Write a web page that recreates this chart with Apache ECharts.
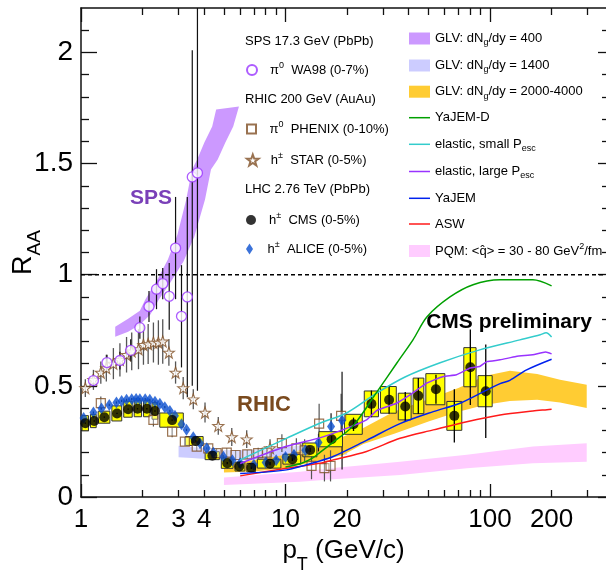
<!DOCTYPE html>
<html><head><meta charset="utf-8">
<script src="https://cdn.jsdelivr.net/npm/echarts@6/dist/echarts.min.js"></script>
<style>html,body{margin:0;padding:0;background:#fff}#c{width:606px;height:573px}</style>
</head><body><div id="c"></div>
<script>
// ================= DATA =================
const X_MIN = 1, X_MAX = 369, Y_MIN = 0, Y_MAX = 2.2;
const xMajorTicks = [1, 10, 100];
const xMinorTicks = [2,3,4,5,6,7,8,9,20,30,40,50,60,70,80,90,200,300];
const xTickLabels = [1, 2, 3, 4, 10, 20, 100, 200];
const yMajorTicks = [0, 0.5, 1, 1.5, 2];
const yMinorTicks = [0.1,0.2,0.3,0.4,0.6,0.7,0.8,0.9,1.1,1.2,1.3,1.4,1.6,1.7,1.8,1.9,2.1];
const yTickLabels = [0, 0.5, 1, 1.5, 2];

// WA98 pi0 (SPS)
const wa98Pt  = [1.15,1.34,1.55,1.75,1.94,2.15,2.34,2.51,2.70,2.90,3.10,3.31,3.50,3.71];
const wa98R   = [0.524,0.605,0.614,0.66,0.762,0.857,0.935,0.96,0.903,1.12,0.813,0.90,1.44,1.458];
const wa98ELo = [0.03,0.035,0.04,0.05,0.05,0.07,0.09,0.07,0.15,0.23,0.23,0.45,0.94,0.98];
const wa98EHi = [0.03,0.035,0.04,0.05,0.05,0.07,0.09,0.07,0.15,0.23,0.23,0.45,0.57,1.0];

// STAR h+-
const starPt  = [1.05,1.15,1.25,1.33,1.44,1.55,1.67,1.77,1.91,2.02,2.13,2.26,2.39,2.51,2.69,2.90,3.16,3.54,4.04,4.69,5.46,6.46,8.4];
const starR   = [0.49,0.527,0.56,0.58,0.60,0.617,0.64,0.655,0.665,0.685,0.688,0.695,0.695,0.70,0.65,0.56,0.49,0.44,0.38,0.32,0.27,0.26,0.22];
const starErr = [0.04,0.045,0.05,0.06,0.07,0.075,0.08,0.085,0.09,0.09,0.09,0.09,0.1,0.1,0.06,0.05,0.05,0.045,0.045,0.04,0.04,0.04,0.04];

// PHENIX pi0
const phenixPt  = [1.25,2.26,2.79,3.22,3.68,4.19,4.6,5.16,5.7,6.5,7.35,8.1,9.6,11.3,12.4,13.4,14.6,15.5,16.6,18.7];
const phenixR   = [0.422,0.347,0.294,0.249,0.227,0.219,0.197,0.2,0.189,0.192,0.197,0.2,0.242,0.219,0.21,0.14,0.33,0.13,0.14,0.365];
const phenixErr = [0.03,0.03,0.025,0.02,0.02,0.02,0.02,0.02,0.02,0.02,0.025,0.03,0.04,0.045,0.05,0.06,0.09,0.06,0.07,0.1];

// ALICE h+-
const alicePt  = [1.03,1.15,1.26,1.375,1.49,1.58,1.67,1.77,1.86,1.94,2.06,2.17,2.30,2.43,2.57,2.72,2.88,3.10,3.28,3.54,3.82,4.12,4.44,4.97,5.5,6.0,7.0,8.0,9.0,10.0,11.0,12.5,14.5,16.7,18.9];
const aliceR   = [0.355,0.38,0.398,0.414,0.425,0.432,0.437,0.44,0.441,0.44,0.44,0.437,0.429,0.419,0.404,0.387,0.365,0.327,0.302,0.269,0.242,0.219,0.199,0.181,0.165,0.152,0.145,0.155,0.165,0.18,0.19,0.21,0.245,0.317,0.344];
const aliceErr = [0.005,0.005,0.005,0.005,0.005,0.005,0.005,0.005,0.005,0.005,0.005,0.005,0.005,0.005,0.005,0.005,0.005,0.005,0.005,0.005,0.005,0.005,0.008,0.008,0.008,0.01,0.01,0.012,0.014,0.016,0.02,0.03,0.04,0.06,0.22];

// CMS h+- (bins, values, systematic and statistical uncertainties)
const cmsBinEdges = [1.0,1.1,1.2,1.4,1.6,1.8,2.0,2.2,2.4,3.2,4.0,4.8,5.6,6.4,7.2,9.6,12.0,14.4,19.2,24.0,28.8,35.2,41.6,48.0,60.8,73.6,86.4,103.6];
const cmsPt   = [1.05,1.16,1.30,1.50,1.70,1.89,2.10,2.30,2.79,3.64,4.39,5.19,5.94,6.80,8.40,10.8,13.2,16.8,21.5,26.3,32.1,38.5,44.6,54.4,66.9,80.1,95.3];
const cmsR    = [0.332,0.342,0.359,0.376,0.395,0.397,0.397,0.387,0.346,0.252,0.186,0.152,0.137,0.132,0.150,0.170,0.212,0.260,0.327,0.419,0.437,0.407,0.455,0.485,0.365,0.584,0.476];
const cmsSys  = [0.034,0.03,0.027,0.034,0.036,0.036,0.036,0.037,0.032,0.02,0.018,0.023,0.02,0.019,0.02,0.022,0.031,0.034,0.045,0.058,0.06,0.06,0.08,0.07,0.065,0.088,0.07];
const cmsStat = [0.003,0.003,0.003,0.003,0.003,0.003,0.003,0.003,0.003,0.003,0.004,0.005,0.005,0.006,0.007,0.008,0.01,0.015,0.03,0.06,0.063,0.065,0.08,0.065,0.12,0.17,0.21];

// GLV dNg/dy=400 band (edges)
const glv400Upper = [[1.47,0.766],[1.70,0.802],[1.94,0.838],[2.06,0.887],[2.36,0.977],[2.66,1.068],[2.96,1.18],[3.27,1.338],[3.49,1.473],[3.70,1.518],[4.01,1.595],[4.38,1.667],[4.58,1.743]];
const glv400Lower = [[1.47,0.721],[1.70,0.743],[1.94,0.775],[2.18,0.82],[2.40,0.887],[2.73,0.964],[3.17,1.059],[3.58,1.171],[4.04,1.338],[4.32,1.473],[4.66,1.518],[5.08,1.595],[5.55,1.667],[5.92,1.757]];
// GLV dNg/dy=1400 band
const glv1400Pt = [3, 3.5, 4.5, 6, 8, 10, 13, 16, 20];
const glv1400Lo = [0.179,0.175,0.168,0.165,0.17,0.175,0.185,0.19,0.19];
const glv1400Hi = [0.231,0.225,0.212,0.21,0.215,0.225,0.235,0.24,0.243];
// GLV dNg/dy=2000-4000 band
const glv2000Pt = [5, 7, 10, 14, 19, 24, 34, 50, 70, 95, 125, 170, 220, 297];
const glv2000Lo = [0.11,0.115,0.13,0.16,0.188,0.238,0.285,0.34,0.383,0.415,0.432,0.437,0.425,0.40];
const glv2000Hi = [0.15,0.165,0.19,0.235,0.27,0.31,0.385,0.44,0.49,0.545,0.568,0.553,0.527,0.505];
// PQM band
const pqmPt = [5, 11.8, 17.1, 36.3, 77, 162, 297];
const pqmLo = [0.054,0.069,0.08,0.099,0.129,0.152,0.159];
const pqmHi = [0.088,0.114,0.13,0.159,0.19,0.227,0.242];

// Theory curves
const yajemDPt = [10,12,13.6,14.7,17,21.4,28,35.1,42,49.2,63.7,82.6,112,162,200];
const yajemDR  = [0.135,0.152,0.176,0.2,0.245,0.32,0.473,0.604,0.707,0.811,0.90,0.955,0.977,0.977,0.95];
const elSmallPt = [6,10.1,14.7,19.9,28,38.4,57,89,140,176,188,200];
const elSmallR  = [0.167,0.264,0.332,0.378,0.468,0.54,0.604,0.662,0.707,0.73,0.739,0.72];
const elLargePt = [6,10,14.7,20,24.9,28,34.9,40.6,49,59,68.5,80,89,96.5,112,134,162,187,200];
const elLargeR  = [0.151,0.227,0.266,0.31,0.347,0.39,0.422,0.459,0.512,0.542,0.55,0.58,0.587,0.609,0.617,0.632,0.640,0.652,0.644];
const yajemPt = [6,10.1,14.7,17.1,24.9,36.3,52.8,71.3,96.8,112,125,151,200];
const yajemR  = [0.106,0.122,0.162,0.182,0.255,0.33,0.384,0.422,0.482,0.51,0.525,0.572,0.62];
const aswPt = [6,10.1,14.7,17.1,24.9,36.3,52.8,77,112,162,190,200];
const aswR  = [0.095,0.129,0.152,0.167,0.205,0.264,0.302,0.339,0.369,0.387,0.393,0.395];

// ================= CHART =================
const L = v => Math.log10(v);
const FONT = '"Liberation Sans", Arial, Helvetica, sans-serif';
const AX = '#111';

function xAx(pos, ticks, len, extra) {
  return Object.assign({
    type: 'value', gridIndex: 0, position: pos, min: L(X_MIN), max: L(X_MAX),
    axisLine: { show: false, onZero: false },
    splitLine: { show: false }, minorTick: { show: false },
    axisTick: { show: true, inside: true, length: len, customValues: ticks.map(L), lineStyle: { color: AX, width: 1.3 } },
    axisLabel: { show: false }
  }, extra || {});
}
function yAx(pos, ticks, len, extra) {
  return Object.assign({
    type: 'value', gridIndex: 0, position: pos, min: Y_MIN, max: Y_MAX,
    axisLine: { show: false, onZero: false },
    splitLine: { show: false }, minorTick: { show: false },
    axisTick: { show: true, inside: true, length: len, customValues: ticks, lineStyle: { color: AX, width: 1.3 } },
    axisLabel: { show: false }
  }, extra || {});
}

function bandSeries(name, upper, lower, color) {
  const pts = upper.concat(lower.slice().reverse());
  return {
    name, type: 'custom', silent: true, clip: true,
    itemStyle: { color },
    data: pts.map(p => [L(p[0]), p[1]]),
    renderItem(params, api) {
      if (params.dataIndex !== 0) return null;
      return { type: 'polygon', shape: { points: pts.map(p => api.coord([L(p[0]), p[1]])) }, style: { fill: color } };
    }
  };
}
function gridBand(name, pt, lo, hi, color) {
  return bandSeries(name, pt.map((x, i) => [x, hi[i]]), pt.map((x, i) => [x, lo[i]]), color);
}
function errSeries(pt, r, lo, hi, color, width) {
  return {
    type: 'custom', silent: true, clip: true,
    encode: { x: 0, y: [1, 2] },
    data: pt.map((x, i) => [L(x), r[i] - lo[i], r[i] + hi[i]]),
    renderItem(params, api) {
      const a = api.coord([api.value(0), api.value(1)]);
      const b = api.coord([api.value(0), api.value(2)]);
      return { type: 'line', shape: { x1: a[0], y1: a[1], x2: b[0], y2: b[1] }, style: { stroke: color, lineWidth: width } };
    }
  };
}
function curve(name, pt, r, color, smooth) {
  return {
    name, type: 'line', symbol: 'none', showSymbol: false, smooth: smooth, silent: true, clip: true,
    lineStyle: { color, width: 1.5 }, itemStyle: { color },
    data: pt.map((x, i) => [L(x), r[i]])
  };
}
function scatter(name, pt, r, symbol, size, itemStyle) {
  return {
    name, type: 'scatter', symbol, symbolSize: size, silent: true, clip: true,
    itemStyle, data: pt.map((x, i) => [L(x), r[i]])
  };
}

const STAR_PATH = 'path://M10,0 L12.35,6.76 L19.51,6.91 L13.8,11.24 L15.88,18.09 L10,14 L4.12,18.09 L6.2,11.24 L0.49,6.91 L7.65,6.76 Z';
const SQUARE_PATH = 'path://M0,0L9,0L9,9L0,9Z';
const DIAMOND_PATH = 'path://M3.5,0L7,5.5L3.5,11L0,5.5Z';
const LINE_ICON = 'path://M0,0L21,0L21,1.5L0,1.5Z';

const C = {
  glv400: '#cc99ff', glv1400: '#ccccff', glv2000: '#ffcc33', pqm: '#ffccff',
  green: '#00a000', cyan: '#33cccc', purple: '#9933ff', blue: '#0022ee', red: '#ff1a1a',
  wa98: '#9933ff', brown: '#7f4f24', alice: '#0a4fd0'
};

const series = [
  { name: 'ref1', type: 'line', symbol: 'none', silent: true,
    lineStyle: { color: '#000', width: 1.4, type: [4, 3] },
    data: [[L(X_MIN), 1], [L(X_MAX), 1]] },
  gridBand('PQM', pqmPt, pqmLo, pqmHi, C.pqm),
  gridBand('GLV1400', glv1400Pt, glv1400Lo, glv1400Hi, C.glv1400),
  gridBand('GLV2000', glv2000Pt, glv2000Lo, glv2000Hi, C.glv2000),
  bandSeries('GLV400', glv400Upper, glv400Lower, C.glv400),
  curve('ASW', aswPt, aswR, C.red, 0.3),
  curve('YaJEM', yajemPt, yajemR, C.blue, 0.3),
  curve('elasticLarge', elLargePt, elLargeR, C.purple, 0.15),
  curve('elasticSmall', elSmallPt, elSmallR, C.cyan, 0.3),
  curve('YaJEM-D', yajemDPt, yajemDR, C.green, 0.3),
  errSeries(starPt, starR, starErr, starErr, '#555', 1.3),
  scatter('STAR', starPt, starR, STAR_PATH, 11, { color: '#fff', borderColor: C.brown, borderWidth: 1.1 }),
  errSeries(wa98Pt, wa98R, wa98ELo, wa98EHi, '#111', 1.2),
  scatter('WA98', wa98Pt, wa98R, 'circle', 10, { color: '#fff', borderColor: C.wa98, borderWidth: 1.3 }),
  errSeries(phenixPt, phenixR, phenixErr, phenixErr, '#555', 1.2),
  scatter('PHENIX', phenixPt, phenixR, 'rect', 9, { color: 'rgba(255,255,255,0.45)', borderColor: C.brown, borderWidth: 1.2 }),
  errSeries(alicePt, aliceR, aliceErr, aliceErr, '#111', 1.2),
  scatter('ALICE', alicePt, aliceR, 'diamond', [8, 12], { color: C.alice }),
  { type: 'custom', silent: true, clip: true,
    encode: { x: [0, 1], y: [2, 3] },
    data: cmsPt.map((x, i) => [L(cmsBinEdges[i]), L(cmsBinEdges[i + 1]), cmsR[i] - cmsSys[i], cmsR[i] + cmsSys[i]]),
    renderItem(params, api) {
      const a = api.coord([api.value(0), api.value(3)]);
      const b = api.coord([api.value(1), api.value(2)]);
      return { type: 'rect', shape: { x: a[0] + 1, y: a[1], width: Math.max(2, b[0] - a[0] - 2), height: b[1] - a[1] },
        style: { fill: '#ffff00', stroke: '#333', lineWidth: 1 } };
    } },
  errSeries(cmsPt, cmsR, cmsStat, cmsStat, '#000', 1.3),
  scatter('CMS', cmsPt, cmsR, 'circle', 10, { color: '#000' })
];

const legendText = {
  'WA98': 'π{sup|0}  WA98 (0-7%)',
  'PHENIX': 'π{sup|0}  PHENIX (0-10%)',
  'STAR': 'h{sup|±}  STAR (0-5%)',
  'CMS': 'h{sup|±}  CMS (0-5%)',
  'ALICE': 'h{sup|±}  ALICE (0-5%)',
  'GLV400': 'GLV: dN{sub|g}/dy = 400',
  'GLV1400': 'GLV: dN{sub|g}/dy = 1400',
  'GLV2000': 'GLV: dN{sub|g}/dy = 2000-4000',
  'YaJEM-D': 'YaJEM-D',
  'elasticSmall': 'elastic, small P{sub|esc}',
  'elasticLarge': 'elastic, large P{sub|esc}',
  'YaJEM': 'YaJEM',
  'ASW': 'ASW',
  'PQM': 'PQM: <q\u0302> = 30 - 80 GeV{sup|2}/fm'
};
const legTextStyle = {
  fontSize: 13, fontFamily: FONT, color: '#000', lineHeight: 18,
  rich: {
    sup: { fontSize: 9, lineHeight: 9, verticalAlign: 'top', fontFamily: FONT, color: '#000' },
    sub: { fontSize: 9, lineHeight: 9, verticalAlign: 'bottom', fontFamily: FONT, color: '#000' }
  }
};
function leg(item, left, cy, iw, ih) {
  return {
    show: true, left, top: cy - 9, padding: 0, itemGap: 0, orient: 'horizontal',
    itemWidth: iw, itemHeight: ih, selectedMode: false, symbolKeepAspect: true,
    data: [item], formatter: n => legendText[n], textStyle: legTextStyle
  };
}
const legends = [
  leg('WA98', 246, 70, 26, 10),
  leg({ name: 'PHENIX', icon: SQUARE_PATH }, 246, 129, 26, 9),
  leg('STAR', 246, 160, 26, 11),
  leg('CMS', 246, 220, 26, 10),
  leg({ name: 'ALICE', icon: DIAMOND_PATH }, 246, 249, 26, 11),
  leg({ name: 'GLV400', icon: 'rect', itemStyle: { color: C.glv400 } }, 409, 38.5, 21, 12),
  leg({ name: 'GLV1400', icon: 'rect', itemStyle: { color: C.glv1400 } }, 409, 65.5, 21, 12),
  leg({ name: 'GLV2000', icon: 'rect', itemStyle: { color: C.glv2000 } }, 409, 91.7, 21, 12),
  leg({ name: 'YaJEM-D', icon: LINE_ICON, itemStyle: { color: C.green } }, 409, 117.7, 21, 2),
  leg({ name: 'elasticSmall', icon: LINE_ICON, itemStyle: { color: C.cyan } }, 409, 144.3, 21, 2),
  leg({ name: 'elasticLarge', icon: LINE_ICON, itemStyle: { color: C.purple } }, 409, 171.5, 21, 2),
  leg({ name: 'YaJEM', icon: LINE_ICON, itemStyle: { color: C.blue } }, 409, 198.3, 21, 2),
  leg({ name: 'ASW', icon: LINE_ICON, itemStyle: { color: C.red } }, 409, 224, 21, 2),
  leg({ name: 'PQM', icon: 'rect', itemStyle: { color: C.pqm } }, 409, 251, 21, 12)
];

const txt = (x, y, text, font, fill, align) => ({
  type: 'text', x, y, silent: true, z: 100,
  style: { text, font, fill, align: align || 'left', verticalAlign: 'middle' }
});

const option = {
  animation: false,
  backgroundColor: '#fff',
  grid: { left: 81, right: 0, top: 8, bottom: 76, containLabel: false, outerBoundsMode: 'none' },
  xAxis: [
    xAx('bottom', xMinorTicks, 7, {
      axisLine: { show: true, onZero: false, lineStyle: { color: AX, width: 1.5 } },
      axisLabel: { show: true, customValues: xTickLabels.map(L), margin: 10,
        formatter: v => String(Math.round(Math.pow(10, v))),
        fontSize: 26, fontFamily: FONT, color: '#000' },
      name: 'p{sub|T} (GeV/c)', nameLocation: 'middle', nameGap: 31, nameMoveOverlap: false,
      nameTextStyle: { fontSize: 26, fontFamily: FONT, color: '#000', lineHeight: 46,
        rich: { sub: { fontSize: 18, lineHeight: 18, verticalAlign: 'bottom', fontFamily: FONT, color: '#000' } } }
    }),
    xAx('top', xMinorTicks, 7, { axisLine: { show: true, onZero: false, lineStyle: { color: AX, width: 1.5 } } }),
    xAx('bottom', xMajorTicks, 13),
    xAx('top', xMajorTicks, 14)
  ],
  yAxis: [
    yAx('left', yMajorTicks, 16, {
      axisLine: { show: true, onZero: false, lineStyle: { color: AX, width: 1.5 } },
      axisLabel: { show: true, customValues: yTickLabels, margin: 8,
        formatter: v => String(v), fontSize: 28, fontFamily: FONT, color: '#000' },
      name: 'R{sub|AA}', nameLocation: 'middle', nameRotate: 90, nameGap: 37, nameMoveOverlap: false,
      nameTextStyle: { fontSize: 27, fontFamily: FONT, color: '#000', lineHeight: 40,
        rich: { sub: { fontSize: 19, lineHeight: 19, verticalAlign: 'bottom', fontFamily: FONT, color: '#000' } } }
    }),
    yAx('left', yMinorTicks, 8),
    yAx('right', yMajorTicks, 8),
    yAx('right', yMinorTicks, 4)
  ],
  legend: legends,
  series,
  graphic: [
    txt(245, 41, 'SPS 17.3 GeV (PbPb)', '13px ' + FONT, '#000'),
    txt(245, 99.5, 'RHIC 200 GeV (AuAu)', '13px ' + FONT, '#000'),
    txt(245, 189.5, 'LHC 2.76 TeV (PbPb)', '13px ' + FONT, '#000'),
    txt(151, 198, 'SPS', 'bold 21px ' + FONT, '#7a40b8', 'center'),
    txt(264, 405, 'RHIC', 'bold 22px ' + FONT, '#7a4a1e', 'center'),
    txt(509, 322, 'CMS preliminary', 'bold 21px ' + FONT, '#000', 'center')
  ]
};

const chart = echarts.init(document.getElementById('c'), null, { renderer: 'canvas' });
chart.setOption(option);
</script>
</body></html>
